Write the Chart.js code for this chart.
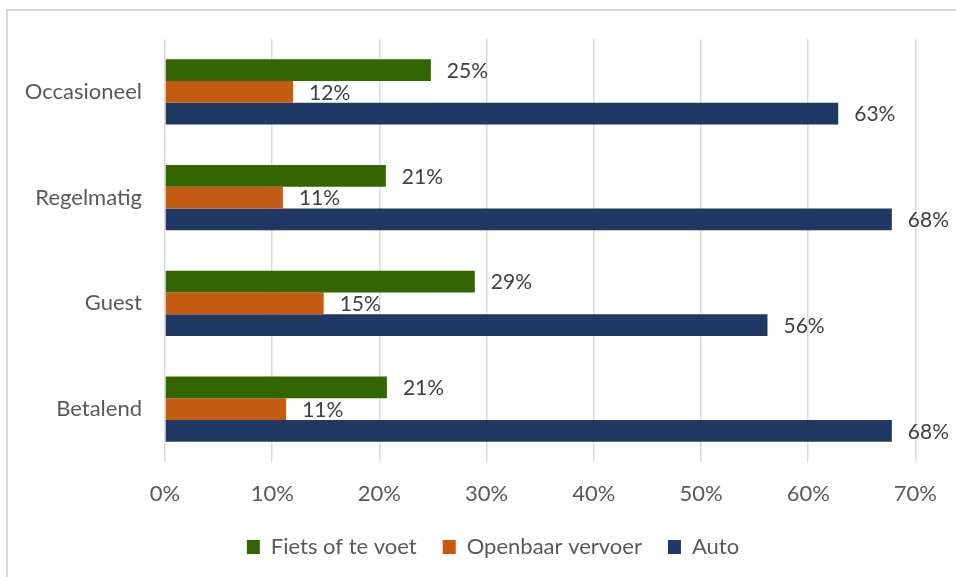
<!DOCTYPE html>
<html>
<head>
<meta charset="utf-8">
<script src="https://cdn.jsdelivr.net/npm/chart.js@4/dist/chart.umd.min.js"></script>
<style>
  html, body { margin: 0; padding: 0; background: #ffffff; overflow: hidden; }
  #wrap { position: relative; width: 956px; height: 577px; }
  #frame { position: absolute; left: 6px; top: 9px; width: 1000px; height: 700px; border: 2px solid #d9d9d9; box-sizing: border-box; }
  canvas { position: absolute; left: 0; top: 0; }
</style>
</head>
<body>
<div id="wrap">
  <div id="frame"></div>
  <canvas id="c" width="956" height="577"></canvas>
</div>
<script>
const categories = ["Occasioneel", "Regelmatig", "Guest", "Betalend"];
const seriesNames = ["Fiets of te voet", "Openbaar vervoer", "Auto"];
const fietsValues = [24.8, 20.6, 28.9, 20.7];
const ovValues = [11.95, 11.0, 14.8, 11.3];
const autoValues = [62.8, 67.8, 56.2, 67.8];
const xTicks = [0, 10, 20, 30, 40, 50, 60, 70];
const seriesColors = ["#336600", "#C55A11", "#203864"];

const FONT = "Lato, 'Open Sans', sans-serif";

const dataLabelPlugin = {
  id: 'dataLabels',
  afterDatasetsDraw(chart) {
    const ctx = chart.ctx;
    ctx.save();
    ctx.font = "21px " + FONT;
    ctx.fillStyle = "#404040";
    ctx.textAlign = "left";
    ctx.textBaseline = "middle";
    chart.data.datasets.forEach((ds, i) => {
      const meta = chart.getDatasetMeta(i);
      meta.data.forEach((el, j) => {
        ctx.fillText(Math.round(ds.data[j]) + "%", el.x + 16, el.y + 1);
      });
    });
    ctx.restore();
  }
};

const legendShiftPlugin = {
  id: 'legendShift',
  beforeDraw(chart) {
    const lg = chart.legend;
    if (lg && !lg._shifted) {
      lg.left += 34;
      lg.right += 34;
      lg._shifted = true;
    }
  }
};

new Chart(document.getElementById('c'), {
  type: 'bar',
  data: {
    labels: categories,
    datasets: [
      { label: seriesNames[0], data: fietsValues, backgroundColor: seriesColors[0] },
      { label: seriesNames[1], data: ovValues, backgroundColor: seriesColors[1] },
      { label: seriesNames[2], data: autoValues, backgroundColor: seriesColors[2] }
    ]
  },
  options: {
    indexAxis: 'y',
    responsive: false,
    animation: false,
    devicePixelRatio: 1,
    datasets: { bar: { categoryPercentage: 0.615, barPercentage: 1.0 } },
    layout: { padding: { left: 0, top: 39, right: 38, bottom: 9 } },
    scales: {
      x: {
        min: 0, max: 70,
        afterBuildTicks(scale) { scale.ticks = xTicks.map(v => ({ value: v })); },
        afterFit(scale) { scale.height = 48; },
        grid: { color: "#d9d9d9", lineWidth: 1.5, drawTicks: false },
        border: { display: false },
        ticks: {
          padding: 19,
          color: "#595959",
          font: { family: FONT, size: 22 },
          callback: v => v + "%"
        }
      },
      y: {
        afterFit(scale) { scale.width = 165; },
        grid: { display: false, drawTicks: false },
        border: { display: false },
        ticks: {
          padding: 23,
          color: "#595959",
          font: { family: FONT, size: 22 }
        }
      }
    },
    plugins: {
      legend: {
        position: 'bottom',
        labels: {
          boxWidth: 13, boxHeight: 14,
          padding: 26,
          color: "#595959",
          font: { family: FONT, size: 22 }
        }
      },
      tooltip: { enabled: false }
    }
  },
  plugins: [dataLabelPlugin, legendShiftPlugin]
});
</script>
</body>
</html>
